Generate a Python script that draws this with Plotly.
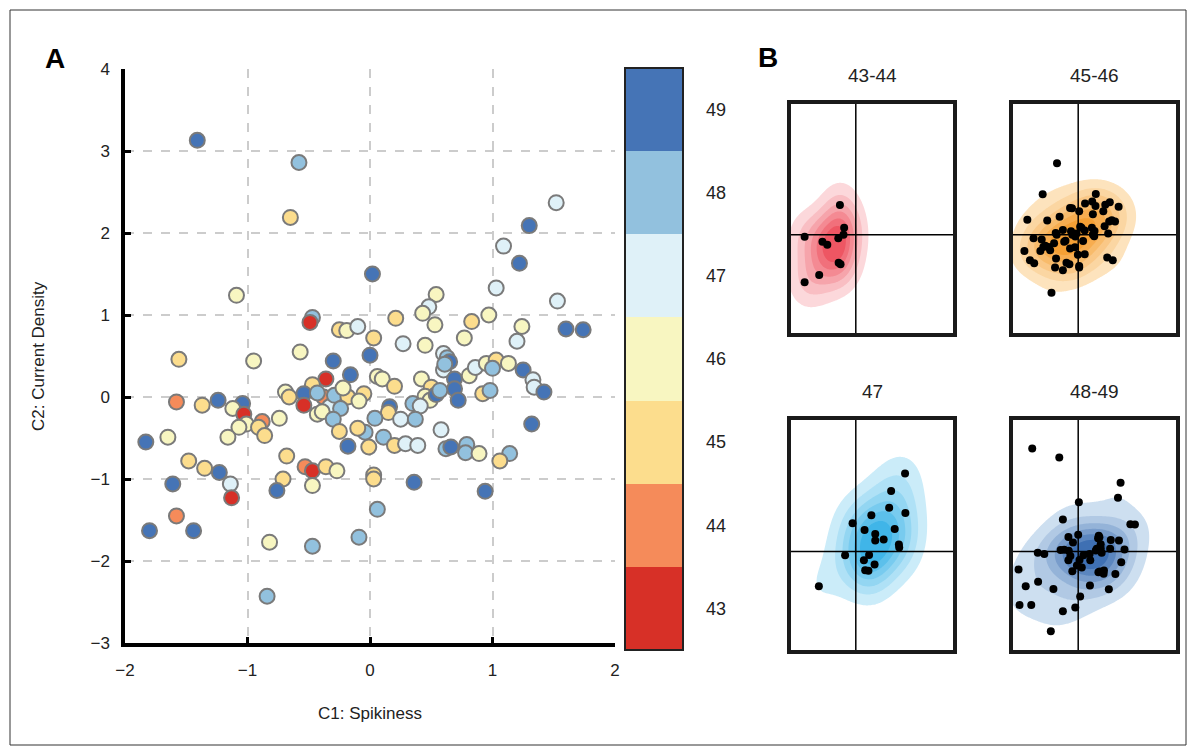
import numpy as np
import plotly.graph_objects as go

# ---------------- data ----------------
c1_spikiness = [
    -1.41, -0.58, -0.65, 0.02, -1.09, -0.47, -0.49, -0.25, -0.19, -0.10,
    0.03, -0.57, -0.30, 0.00, -1.56, -0.95, 1.52, 1.30, 1.09, 1.22,
    1.03, 1.53, 0.54, 0.48, 0.43, 0.21, 0.53, 0.83, 0.97, 1.24,
    1.60, 1.74, 1.20, 0.27, 0.45, 0.77, 0.60, 0.63, 0.65, 0.60,
    0.61, 0.69, 0.69, 0.72, 0.81, 0.86, 0.95, 1.03, 1.00, 1.13,
    1.25, 1.33, 1.34, 1.42, 0.92, 0.98, 1.32, 0.06, 0.10, 0.20,
    0.42, 0.50, 0.45, 0.49, 0.54, 0.57, -0.05, 0.35, 0.41, 0.16,
    0.15, 0.04, 0.25, 0.37, -0.04, -0.01, 0.11, 0.20, 0.29, 0.39,
    0.58, 0.62, 0.66, 0.79, 0.78, 0.89, 1.14, 1.06, 0.03, 0.03,
    0.36, 0.94, 0.06, -0.09, -0.36, -0.47, -0.16, -1.58, -1.37, -1.24,
    -1.04, -1.12, -1.03, -1.01, -1.07, -0.88, -0.91, -0.86, -1.16, -0.74,
    -1.83, -1.65, -0.69, -0.66, -0.54, -0.54, -0.38, -0.43, -0.33, -0.43,
    -0.39, -0.29, -0.18, -0.09, -0.24, -0.30, -0.25, -0.18, -0.10, -1.48,
    -1.35, -1.23, -1.61, -1.14, -1.13, -0.68, -0.71, -0.76, -0.53, -0.47,
    -0.36, -0.27, -0.47, -1.58, -1.80, -1.44, -0.82, -0.47, -0.84, -0.22,
]
c2_current_density = [
    3.13, 2.86, 2.19, 1.50, 1.24, 0.97, 0.91, 0.82, 0.81, 0.86,
    0.72, 0.55, 0.44, 0.51, 0.46, 0.44, 2.37, 2.09, 1.84, 1.63,
    1.33, 1.17, 1.25, 1.10, 1.02, 0.96, 0.88, 0.92, 1.00, 0.86,
    0.83, 0.82, 0.68, 0.65, 0.63, 0.72, 0.53, 0.48, 0.43, 0.33,
    0.40, 0.22, 0.10, -0.04, 0.26, 0.36, 0.41, 0.45, 0.35, 0.41,
    0.33, 0.21, 0.12, 0.06, 0.04, 0.08, -0.33, 0.25, 0.22, 0.13,
    0.22, 0.12, 0.01, -0.04, 0.03, 0.08, 0.04, -0.08, -0.11, -0.12,
    -0.19, -0.26, -0.27, -0.27, -0.43, -0.61, -0.49, -0.59, -0.57, -0.59,
    -0.40, -0.63, -0.61, -0.58, -0.68, -0.69, -0.69, -0.78, -0.95, -1.00,
    -1.04, -1.15, -1.37, -1.71, 0.22, 0.15, 0.27, -0.06, -0.10, -0.04,
    -0.08, -0.14, -0.21, -0.33, -0.37, -0.30, -0.37, -0.47, -0.49, -0.26,
    -0.55, -0.49, 0.06, 0.00, 0.04, -0.10, 0.00, 0.05, -0.12, -0.21,
    -0.18, 0.02, 0.00, -0.05, -0.14, -0.27, -0.42, -0.60, -0.38, -0.78,
    -0.87, -0.92, -1.06, -1.06, -1.23, -0.72, -1.00, -1.14, -0.85, -0.90,
    -0.85, -0.90, -1.08, -1.45, -1.63, -1.63, -1.77, -1.82, -2.43, 0.11,
]
age_group = [
    49, 48, 45, 49, 46, 48, 43, 45, 46, 47,
    45, 46, 49, 49, 45, 46, 47, 49, 47, 49,
    47, 47, 46, 47, 46, 45, 46, 45, 46, 46,
    49, 49, 47, 47, 46, 46, 47, 48, 49, 47,
    48, 49, 49, 49, 46, 47, 46, 45, 48, 46,
    49, 47, 47, 49, 45, 48, 49, 46, 46, 45,
    46, 45, 46, 46, 49, 48, 45, 48, 47, 49,
    45, 48, 47, 48, 48, 45, 48, 45, 47, 47,
    47, 48, 49, 48, 48, 46, 48, 45, 45, 45,
    49, 49, 48, 48, 43, 45, 49, 44, 45, 49,
    49, 46, 43, 46, 46, 44, 45, 45, 46, 46,
    49, 46, 46, 45, 49, 43, 44, 48, 47, 46,
    46, 48, 45, 46, 48, 48, 45, 49, 45, 45,
    45, 49, 49, 47, 43, 45, 45, 49, 44, 43,
    45, 46, 46, 44, 49, 49, 46, 48, 48, 46,
]

class_values = [43, 44, 45, 46, 47, 48, 49]
class_colors = ["#d73027", "#f58b5a", "#fcdd8d", "#f8f6c1", "#dff1f8", "#92c1de", "#4574b6"]
x_ticks = [-2, -1, 0, 1, 2]
y_ticks = [-3, -2, -1, 0, 1, 2, 3, 4]
panel_titles = ["43-44", "45-46", "47", "48-49"]
panel_groups = [[43, 44], [45, 46], [47], [48, 49]]
panel_kde_colors = [("#fcd8db", "#ee5663"), ("#fde3bd", "#f5a035"),
                    ("#cbecf9", "#40b5e8"), ("#cddff0", "#3f70b3")]

# ---------------- layout geometry (pixels) ----------------
W, H = 1196, 753
FONT = "Liberation Sans, Arial, sans-serif"


def fx(p):
    return p / W


def fy(p):
    return 1 - p / H


main_box = (125, 615, 69, 643)  # left, right, top, bottom
panel_boxes = [(791, 953, 104, 333), (1013, 1176, 104, 333),
               (791, 953, 420, 650), (1013, 1176, 420, 650)]

# discrete colorscale
n = len(class_colors)
cscale = []
for i, c in enumerate(class_colors):
    cscale.append([i / n, c])
    cscale.append([(i + 1) / n, c])

fig = go.Figure()

fig.add_trace(go.Scatter(
    x=c1_spikiness, y=c2_current_density, mode="markers",
    marker=dict(
        size=15, color=age_group, colorscale=cscale, cmin=42.5, cmax=49.5,
        line=dict(color="#7a7a7a", width=2),
        showscale=True,
        colorbar=dict(
            x=fx(625), xanchor="left", xpad=0, ypad=0,
            y=fy((68 + 650) / 2), yanchor="middle",
            len=(650 - 68) / H, lenmode="fraction",
            thickness=58, thicknessmode="pixels",
            outlinewidth=2, outlinecolor="#222222",
            tickvals=class_values, ticks="outside", ticklen=19,
            tickcolor="rgba(0,0,0,0)",
            tickfont=dict(family=FONT, size=18, color="#222222"),
        ),
    ),
    xaxis="x", yaxis="y", showlegend=False, hoverinfo="x+y",
))

# ---------------- KDE panels ----------------
gx = np.linspace(-2, 3, 161)
gy = np.linspace(-3, 4, 221)
GX, GY = np.meshgrid(gx, gy)
xs_all = np.array(c1_spikiness)
ys_all = np.array(c2_current_density)
ag_all = np.array(age_group)


def bandwidth(v):
    sd = np.std(v, ddof=1)
    q75, q25 = np.percentile(v, [75, 25])
    return 1.06 * min(sd, (q75 - q25) / 1.34) * len(v) ** (-0.2)


for k, (grp, title, (cl, cd), box) in enumerate(zip(panel_groups, panel_titles, panel_kde_colors, panel_boxes)):
    ax = str(k + 2)
    mask = np.isin(ag_all, grp)
    xs, ys = xs_all[mask], ys_all[mask]
    hx = bandwidth(xs) * 1.5
    hy = bandwidth(ys) * 1.5
    dx = (GX[..., None] - xs[None, None, :]) / hx
    dy = (GY[..., None] - ys[None, None, :]) / hy
    dens = np.exp(-0.5 * (dx * dx + dy * dy)).sum(axis=-1)
    zmax = dens.max()
    start, size = 0.13 * zmax, 0.14 * zmax
    nlev = int(np.floor((0.95 * zmax - start) / size)) + 1
    thr = 1.0 / nlev
    kscale = [[0, "rgba(255,255,255,0)"], [thr - 0.001, "rgba(255,255,255,0)"],
              [thr, cl], [1, cd]]
    fig.add_trace(go.Contour(
        x=gx, y=gy, z=dens, colorscale=kscale, showscale=False,
        contours=dict(start=start, end=start + (nlev - 1) * size + 1e-9, size=size,
                      coloring="fill", showlines=False),
        line=dict(width=0), hoverinfo="skip",
        xaxis="x" + ax, yaxis="y" + ax,
    ))
    fig.add_trace(go.Scatter(
        x=xs, y=ys, mode="markers",
        marker=dict(size=8, color="black"),
        xaxis="x" + ax, yaxis="y" + ax, showlegend=False, hoverinfo="skip",
    ))
    l, r, t, b = box
    fig.layout["xaxis" + ax] = dict(
        domain=[fx(l), fx(r)], range=[-2, 3], anchor="y" + ax,
        showgrid=False, zeroline=False, showticklabels=False, ticks="",
        showline=True, mirror=True, linecolor="#1a1a1a", linewidth=3.5,
    )
    fig.layout["yaxis" + ax] = dict(
        domain=[fy(b), fy(t)], range=[-3, 4], anchor="x" + ax,
        showgrid=False, zeroline=False, showticklabels=False, ticks="",
        showline=True, mirror=True, linecolor="#1a1a1a", linewidth=3.5,
    )
    fig.add_shape(type="line", xref="x" + ax, yref="y" + ax + " domain",
                  x0=0, x1=0, y0=0, y1=1, line=dict(color="black", width=1.5), layer="above")
    fig.add_shape(type="line", xref="x" + ax + " domain", yref="y" + ax,
                  x0=0, x1=1, y0=0, y1=0, line=dict(color="black", width=1.5), layer="above")
    fig.add_annotation(text=title, x=fx((l + r) / 2), y=fy(t - 29), xref="paper", yref="paper",
                       showarrow=False, font=dict(family=FONT, size=19, color="#222222"),
                       xanchor="center", yanchor="middle")

# ---------------- main axes ----------------
l, r, t, b = main_box
fig.update_layout(
    width=W, height=H, margin=dict(l=0, r=0, t=0, b=0, autoexpand=False),
    paper_bgcolor="white", plot_bgcolor="white",
    font=dict(family=FONT, color="#222222"),
    xaxis=dict(
        domain=[fx(l), fx(r)], range=[-2, 2], tickvals=x_ticks, anchor="y",
        showgrid=True, gridcolor="#cccccc", griddash="dash", gridwidth=1.5,
        zeroline=False, showline=True, linecolor="black", linewidth=3.5,
        ticks="inside", ticklen=6, tickwidth=3, tickcolor="black",
        ticklabelstandoff=9,
        tickfont=dict(family=FONT, size=17, color="#222222"),
    ),
    yaxis=dict(
        domain=[fy(b), fy(t)], range=[-3, 4], tickvals=y_ticks, anchor="x",
        showgrid=True, gridcolor="#cccccc", griddash="dash", gridwidth=1.5,
        zeroline=False, showline=True, linecolor="black", linewidth=3.5,
        ticks="inside", ticklen=6, tickwidth=3, tickcolor="black",
        ticklabelstandoff=8,
        tickfont=dict(family=FONT, size=17, color="#222222"),
    ),
)

common = dict(xref="paper", yref="paper", showarrow=False, xanchor="center", yanchor="middle")
fig.add_annotation(text="C1: Spikiness", x=fx(370), y=fy(713),
                   font=dict(family=FONT, size=17, color="#222222"), **common)
fig.add_annotation(text="C2: Current Density", x=fx(38), y=fy(356), textangle=-90,
                   font=dict(family=FONT, size=17, color="#222222"), **common)
fig.add_annotation(text="<b>A</b>", x=fx(55), y=fy(58),
                   font=dict(family=FONT, size=28, color="black"), **common)
fig.add_annotation(text="<b>B</b>", x=fx(768), y=fy(57),
                   font=dict(family=FONT, size=28, color="black"), **common)

# outer frame
fig.add_shape(type="rect", xref="paper", yref="paper",
              x0=fx(10), x1=fx(1186), y0=fy(745), y1=fy(10),
              line=dict(color="#333333", width=1), layer="below")

fig.write_html("out.html", config={"displayModeBar": False},
               post_script="document.body.style.margin='0px';")
